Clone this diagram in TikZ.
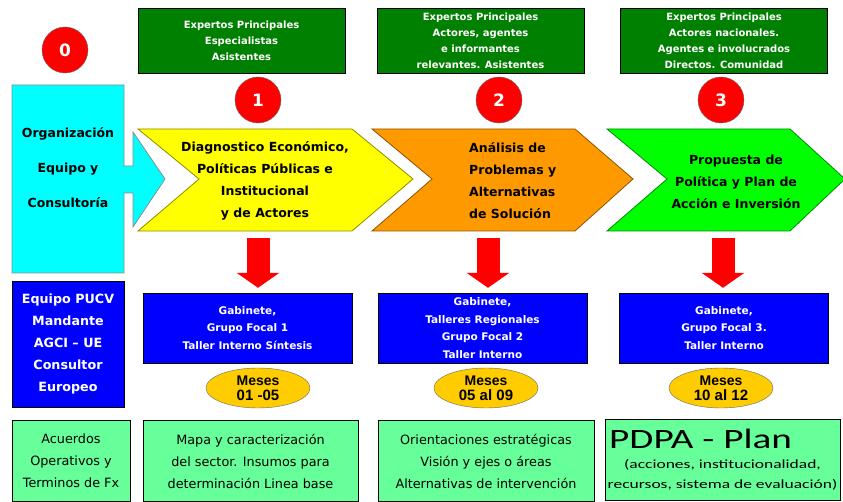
\documentclass[tikz,border=0pt]{standalone}
\usepackage{fontspec}
\setmainfont{DejaVu Sans}
\newfontfamily\calibwide[FakeStretch=1.4]{Carlito}
\newfontfamily\arialfont{Liberation Sans}
\usepackage{xcolor}
\usetikzlibrary{arrows.meta, shapes.geometric}
\definecolor{topgreen}{HTML}{008000}
\definecolor{chevyellow}{HTML}{FFFF00}
\definecolor{chevorange}{HTML}{FF9900}
\definecolor{chevgreen}{HTML}{00FF00}
\definecolor{orgcyan}{HTML}{00FFFF}
\definecolor{teamblue}{HTML}{0000FF}
\definecolor{mesesgold}{HTML}{FFCC00}
\definecolor{resultgreen}{HTML}{66FF99}
\def\chevTop{129}
\def\chevMid{179}
\def\chevBot{231}
\newcommand{\chevron}[5]{%
% #1 = colour, #2 = left x, #3 = notch x, #4 = right x, #5 = tip x
\draw[#1!55!black, fill=#1, line width=0.8pt]
(#2,\chevTop) -- (#4,\chevTop) -- (#5,\chevMid) -- (#4,\chevBot)
-- (#2,\chevBot) -- (#3,\chevMid) -- cycle;
}

\begin{document}
\begin{tikzpicture}[
    x=1pt, y=-1pt,
    expert/.style={draw=black, fill=topgreen, text=white, minimum width=207pt, minimum height=65pt, inner sep=0pt, align=center, font=\bfseries\fontsize{10}{16}\selectfont},
    phase/.style={circle, draw=black!60, fill=red, text=white, minimum size=46pt, inner sep=0pt, font=\bfseries\fontsize{17}{17}\selectfont},
    chevtext/.style={align=center, inner sep=0pt, font=\bfseries\fontsize{12.5}{22}\selectfont},
    workbox/.style={draw=black, fill=teamblue, text=white, minimum width=209pt, minimum height=70pt, inner sep=0pt, align=center, font=\bfseries\fontsize{10.5}{17.5}\selectfont},
    meses/.style={ellipse, draw=black!60, fill=mesesgold, minimum width=104pt, minimum height=40pt, inner sep=0pt, align=center, font=\arialfont\bfseries\fontsize{14}{15}\selectfont},
    result/.style={draw=black, fill=resultgreen, minimum height=81pt, inner sep=0pt, align=center, font=\fontsize{12.8}{22}\selectfont},
    bigdown/.style={red, line width=23pt, -{Triangle[width=42pt,length=15pt]}, shorten >=5pt}
]
\useasboundingbox (0,0) rectangle (843,502);

% phase 0: organisation
\node[phase] (p0) at (65,50) {0};
\draw[black!45, fill=orgcyan, line width=0.8pt]
(12,85) -- (124,85) -- (124,166) -- (133,166) -- (133,132) -- (165,179)
-- (133,227) -- (133,193) -- (124,193) -- (124,273) -- (12,273) -- cycle;
\node[align=center, font=\bfseries\fontsize{12.5}{35}\selectfont] (org) at (68,168)
{Organización\\Equipo y\\Consultoría};
\node[draw=black, fill=teamblue, text=white, minimum width=112pt, minimum height=126pt, inner sep=0pt,
align=center, font=\bfseries\fontsize{12.7}{22}\selectfont] (team) at (68,344)
{Equipo PUCV\\Mandante\\AGCI -- UE\\Consultor\\Europeo};
\node[result, minimum width=118pt] (res0) at (71,461) {Acuerdos\\Operativos y\\Terminos de Fx};

% experts on top
\node[expert] (exp1) at (241.5,40.5) {Expertos Principales\\Especialistas\\Asistentes};
\node[expert] (exp2) at (480.5,40.5) {Expertos Principales\\Actores, agentes\\e informantes\\relevantes. Asistentes};
\node[expert] (exp3) at (724,40.5) {Expertos Principales\\Actores nacionales.\\Agentes e involucrados\\Directos. Comunidad};

% phase numbers
\node[phase] (p1) at (258,100) {1};
\node[phase] (p2) at (499,100) {2};
\node[phase] (p3) at (721,100) {3};

% chevrons
\chevron{chevyellow}{138}{199}{352}{413}
\chevron{chevorange}{372}{432}{575}{633}
\chevron{chevgreen}{607}{667}{790}{845}
\node[chevtext] (diag) at (265,181) {Diagnostico Económico,\\Políticas Públicas e\\Institucional\\y de Actores};
\node[chevtext, align=left, anchor=west] (anal) at (469,181) {Análisis de\\Problemas y\\Alternativas\\de Solución};
\node[chevtext] (prop) at (736,182) {Propuesta de\\Política y Plan de\\Acción e Inversión};

% work modes
\node[workbox] (gab1) at (247.5,328) {Gabinete,\\Grupo Focal 1\\Taller Interno Síntesis};
\node[workbox] (gab2) at (482.5,328) {Gabinete,\\Talleres Regionales\\Grupo Focal 2\\Taller Interno};
\node[workbox] (gab3) at (724,328) {Gabinete,\\Grupo Focal 3.\\Taller Interno};

\coordinate (d1) at (258,238);
\coordinate (d2) at (488,238);
\coordinate (d3) at (723,238);
\draw[bigdown] (d1) -- (d1 |- gab1.north);
\draw[bigdown] (d2) -- (d2 |- gab2.north);
\draw[bigdown] (d3) -- (d3 |- gab3.north);

% months
\node[meses] (m1) at (258,388) {Meses\\{\fontsize{15}{16}\selectfont 01 -05}};
\node[meses] (m2) at (486,388) {Meses\\{\fontsize{15}{16}\selectfont 05 al 09}};
\node[meses] (m3) at (721,388) {Meses\\{\fontsize{15}{16}\selectfont 10 al 12}};

% results
\node[result, minimum width=215pt] (res1) at (250.5,461)
{Mapa y caracterización\\del sector. Insumos para\\determinación Linea base};
\node[result, minimum width=216pt] (res2) at (486,461)
{Orientaciones estratégicas\\Visión y ejes o áreas\\Alternativas de intervención};
\node[result, minimum width=235pt, font=\calibwide\fontsize{12.5}{20}\selectfont] (res3) at (722.5,459.5)
{{\fontsize{28}{28}\selectfont PDPA - Plan\hspace*{44pt}}\\(acciones, institucionalidad,\\recursos, sistema de evaluación)};
\end{tikzpicture}
\end{document}
